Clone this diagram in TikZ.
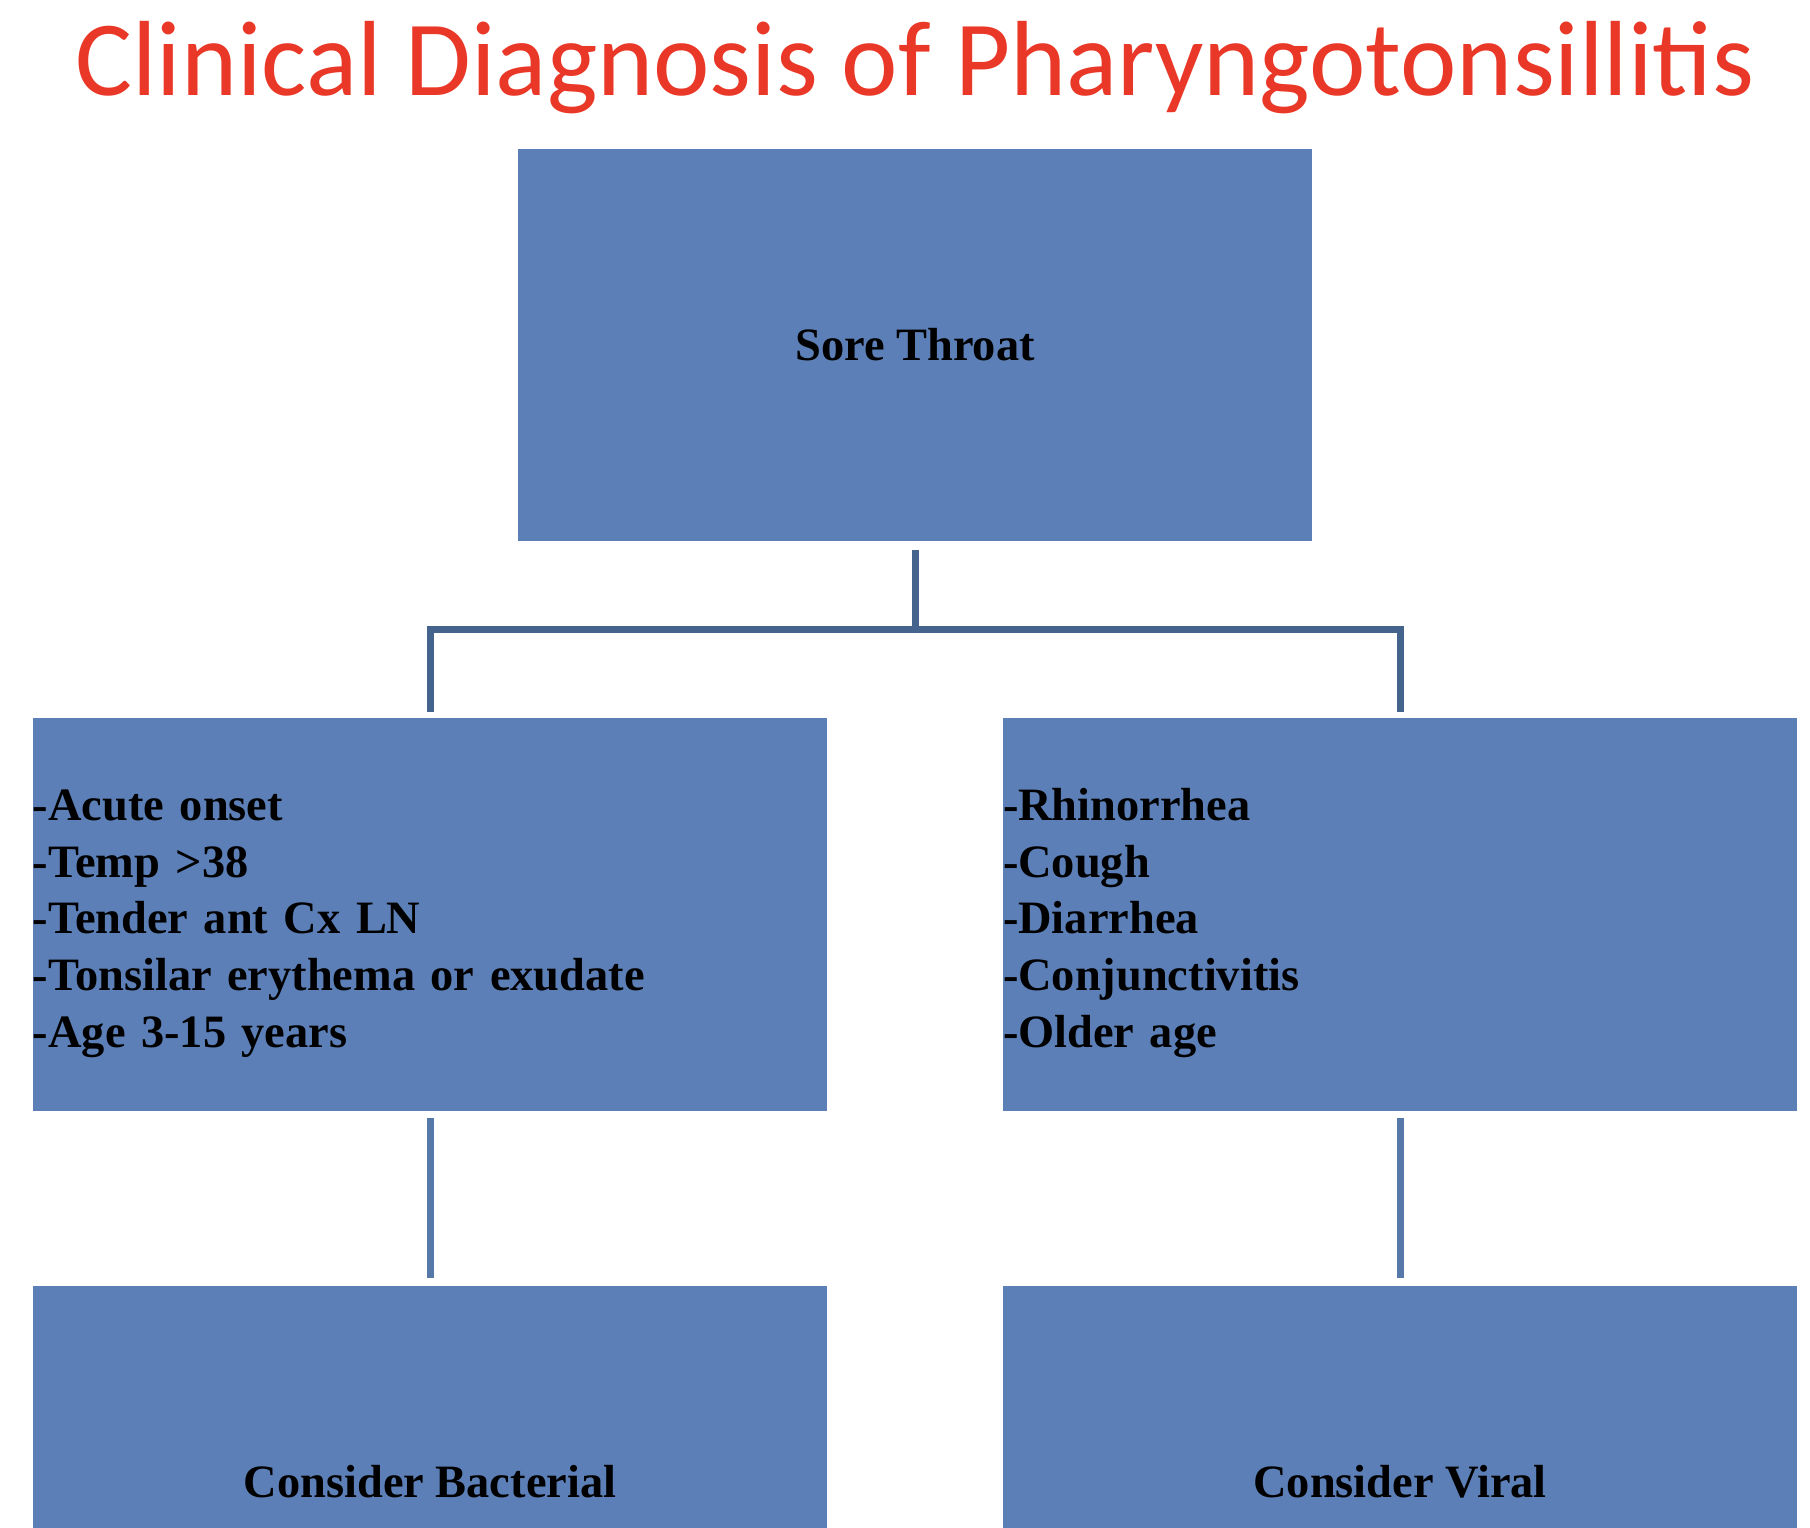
\documentclass[tikz,border=0pt]{standalone}
\usepackage{fontspec}
\setmainfont{Liberation Serif}
\newfontfamily\titlefont{Carlito}
\usepackage{tikz}
\usepackage{xcolor}
\definecolor{boxblue}{RGB}{91,127,182}
\definecolor{trunkblue}{RGB}{68,100,142}
\definecolor{stemblue}{RGB}{87,121,169}
\definecolor{titlered}{RGB}{234,56,40}

\begin{document}
\begin{tikzpicture}
	\tikzstyle{box} = [rectangle, fill=boxblue, inner sep=0pt, minimum width=7.94cm, minimum height=3.92cm, font=\bfseries\fontsize{13.2}{16.1}\selectfont]
	\tikzstyle{list} = [box, text width=7.94cm, align=left]
	\tikzstyle{trunk} = [draw=trunkblue, line width=0.07cm, line join=miter]
	\tikzstyle{stem} = [draw=stemblue, line width=0.07cm]
	\useasboundingbox (0,0) rectangle (18.10,-15.28);
	\clip (0,0) rectangle (18.10,-15.28);
		\node[anchor=base, text=titlered, font=\titlefont\fontsize{30.4}{36}\selectfont] (title) at (9.15,-0.96) {Clinical Diagnosis of Pharyngotonsillitis};
		\node[box] (sore) at (9.15,-3.45) {Sore Throat};
		\node[list] (bact) at (4.30,-9.145) {\rule{0pt}{14pt}-Acute onset\\-Temp >38\\-Tender ant Cx LN\\-Tonsilar erythema or exudate\\-Age 3-15 years};
		\node[list] (vir) at (14.00,-9.145) {\rule{0pt}{14pt}-Rhinorrhea\\-Cough\\-Diarrhea\\-Conjunctivitis\\-Older age};
		\node[box] (cbact) at (4.30,-14.82) {Consider Bacterial};
		\node[box] (cvir) at (14.00,-14.82) {Consider Viral};
	\path (sore.south) -- (bact.north) coordinate[midway] (fork);
	\draw[trunk] ([yshift=-0.8mm]sore.south) -- (sore.south |- fork);
	\draw[trunk] ([yshift=0.6mm]bact.north) |- (sore.south |- fork) -| ([yshift=0.6mm]vir.north);
	\draw[stem] ([yshift=-0.7mm]bact.south) -- ([yshift=0.7mm]cbact.north);
	\draw[stem] ([yshift=-0.7mm]vir.south) -- ([yshift=0.7mm]cvir.north);
	\end{tikzpicture}
\end{document}
